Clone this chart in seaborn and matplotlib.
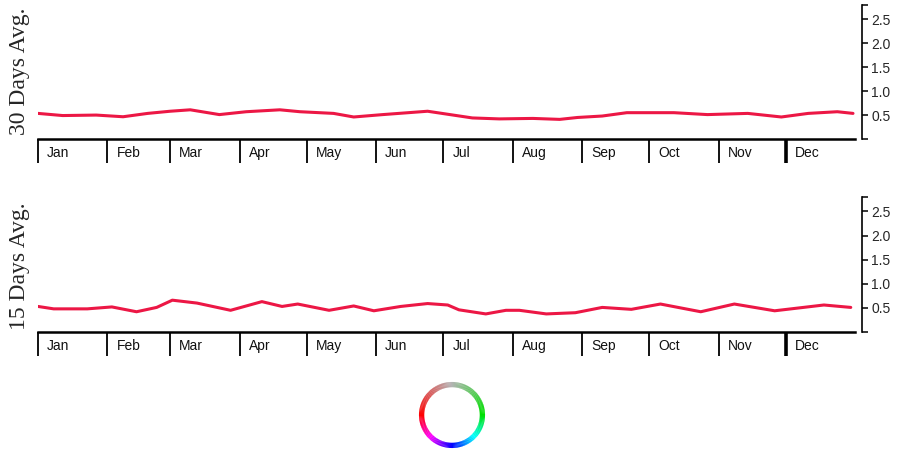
import pandas as pd
import seaborn as sns
import matplotlib.pyplot as plt
from matplotlib.patches import Wedge
from matplotlib.colors import LinearSegmentedColormap

# Months and day-of-year where each starts
months = ['Jan', 'Feb', 'Mar', 'Apr', 'May', 'Jun',
          'Jul', 'Aug', 'Sep', 'Oct', 'Nov', 'Dec']
month_starts = [0, 31, 59, 90, 120, 151, 181, 212, 243, 273, 304, 334]

# 30 days moving average
days_30 = [0, 11, 26, 38, 49, 59, 68, 81, 93, 108, 117, 132, 141, 154, 174,
           184, 194, 206, 221, 233, 241, 252, 263, 284, 299, 317, 332, 344,
           357, 364]
avg_30 = [0.535, 0.49, 0.50, 0.465, 0.535, 0.58, 0.61, 0.51, 0.57, 0.61,
          0.57, 0.535, 0.46, 0.51, 0.58, 0.51, 0.44, 0.42, 0.43, 0.41,
          0.45, 0.48, 0.55, 0.55, 0.51, 0.535, 0.46, 0.535, 0.57, 0.535]

# 15 days moving average
days_15 = [0, 7, 22, 33, 44, 53, 60, 71, 86, 100, 109, 116, 130, 141, 150,
           162, 174, 183, 188, 200, 209, 215, 227, 240, 252, 265, 278, 296,
           311, 329, 351, 363]
avg_15 = [0.53, 0.48, 0.48, 0.52, 0.42, 0.51, 0.66, 0.60, 0.45, 0.63, 0.53,
          0.58, 0.45, 0.54, 0.44, 0.53, 0.59, 0.56, 0.46, 0.375, 0.45, 0.45,
          0.375, 0.40, 0.51, 0.47, 0.58, 0.42, 0.58, 0.44, 0.56, 0.51]

y_ticks = [0.5, 1.0, 1.5, 2.0, 2.5]
y_top = 2.8

line_color = '#ec1745'
# colour ring, counter-clockwise from east
wheel_stops = [0.0, 0.25, 0.5, 0.625, 0.75, 0.875, 1.0]
wheel_colors = ['#00e000', '#b4b4b4', '#ff0000', '#ff00ff', '#0000ff', '#00ffff', '#00e000']

sns.set_theme(style='white')
plt.rcParams['font.family'] = ['Liberation Sans', 'DejaVu Sans']

W, H = 904, 453
fig = plt.figure(figsize=(W / 100, H / 100), dpi=100)


def px_axes(x0, y0, x1, y1):
    return fig.add_axes([x0 / W, 1 - y1 / H, (x1 - x0) / W, (y1 - y0) / H])


px_per_day = (853 - 38) / 364
panels = [
    (days_30, avg_30, '30 Days Avg.', 5, 139, 71),
    (days_15, avg_15, '15 Days Avg.', 197, 332, 266),
]

for days, vals, label, top, bottom, label_y in panels:
    ax = px_axes(38, top, 862, bottom)
    df = pd.DataFrame({'day': days, 'value': vals})
    sns.lineplot(data=df, x='day', y='value', ax=ax, color=line_color,
                 linewidth=2.2)
    ax.set_xlim(0, (862 - 38) / px_per_day)
    ax.set_ylim(0, y_top)
    ax.set_xlabel('')
    ax.set_ylabel('')

    for side in ['left', 'top']:
        ax.spines[side].set_visible(False)
    ax.spines['bottom'].set_bounds(0, 365)
    ax.spines['bottom'].set_linewidth(1.8)
    ax.spines['bottom'].set_color('black')
    ax.spines['right'].set_linewidth(1.2)
    ax.spines['right'].set_color('black')

    # right axis
    ax.yaxis.tick_right()
    ax.set_yticks(y_ticks)
    ax.set_yticklabels([f'{v:.1f}' for v in y_ticks], fontsize=10)
    ax.set_yticks([0, y_top], minor=True)
    ax.tick_params(axis='y', which='both', direction='out', length=4.5,
                   width=1.1, color='black', pad=2, right=True, left=False)

    # month separators
    ax.set_xticks(month_starts)
    ax.set_xticklabels([''] * len(months))
    ax.tick_params(axis='x', direction='out', length=17, width=1.3,
                   color='black', bottom=True)
    ax.xaxis.get_major_ticks()[-1].tick1line.set_markeredgewidth(2.6)
    for m, start in zip(months, month_starts):
        ax.annotate(m, xy=(start, 0), xycoords=('data', 'axes fraction'),
                    xytext=(6.5, -10), textcoords='offset points',
                    ha='left', va='center', fontsize=10, color='#111111')

    fig.text(20 / W, 1 - label_y / H, label, rotation=90, ha='center',
             va='center', fontsize=17,
             family=['Liberation Serif', 'DejaVu Serif'])

# colour wheel
wax = px_axes(414, 377, 490, 453)
wax.set_xlim(-1.15, 1.15)
wax.set_ylim(-1.15, 1.15)
wax.set_aspect('equal')
wax.axis('off')
cmap = LinearSegmentedColormap.from_list('ring', list(zip(wheel_stops, wheel_colors)))
for i in range(0, 360, 2):
    wax.add_patch(Wedge((0, 0), 1.0, i, i + 2.5, width=0.16,
                        color=cmap(i / 360), lw=0))

fig.savefig('out.png', dpi=100)
